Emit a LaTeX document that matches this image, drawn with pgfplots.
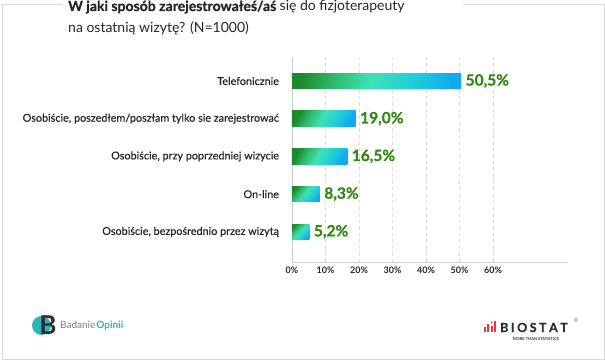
\documentclass[border=0pt]{standalone}
\usepackage{fontspec}
\setmainfont{Lato}
\newfontfamily\latomed{Lato}[FakeBold=0.45]
\usepackage{pgfplots}
\pgfplotsset{compat=1.18}
\definecolor{barG}{HTML}{1D8A2E}
\definecolor{barM}{HTML}{30BE72}
\definecolor{barT}{HTML}{40E0B5}
\definecolor{barC}{HTML}{22CFD6}
\definecolor{barB}{HTML}{10AAF0}
\definecolor{lblgreen}{HTML}{2E8B0E}
\definecolor{gridc}{HTML}{DDDDDD}
\definecolor{axisc}{HTML}{CCCCCC}
\definecolor{txt}{HTML}{262626}
\definecolor{framec}{HTML}{D9D9D9}
\definecolor{logoteal}{HTML}{2BB5B5}
\definecolor{logodark}{HTML}{2E2E2E}
\definecolor{logored}{HTML}{E53935}
\pgfdeclarehorizontalshading{barshade}{100bp}{color(0bp)=(barG); color(24bp)=(barG); color(36bp)=(barM); color(48bp)=(barT); color(62bp)=(barC); color(76bp)=(barB); color(100bp)=(barB)}
\pgfplotsset{
  mybar/.style={xbar, bar width=15.5pt, bar shift=0pt, shading=barshade, shading angle=#1,
    draw=none, point meta=x,
    nodes near coords={\pgfmathprintnumber[fixed,fixed zerofill,precision=1,use comma]{\pgfplotspointmeta}\%},
    nodes near coords style={font=\fontsize{15.5}{17}\selectfont\bfseries\addfontfeature{FakeBold=0.6}, text=lblgreen, anchor=west, xshift=1pt}}
}
\begin{document}
\begin{tikzpicture}
\useasboundingbox (0pt,0pt) rectangle (605pt,362pt);
% frame
\draw[framec, line width=1pt] (62pt,357pt) -- (2pt,357pt) -- (2pt,3pt) -- (604pt,3pt) -- (604pt,357pt) -- (463pt,357pt);
% title
\node[anchor=base west, inner sep=0, text=txt, font=\fontsize{14}{16}\selectfont] at (68pt,351pt) {{\bfseries\addfontfeature{FakeBold=0.8}W jaki sposób zarejestrowałeś/aś} się do fizjoterapeuty};
\node[anchor=base west, inner sep=0, text=txt, font=\fontsize{14}{16}\selectfont] at (68pt,329.5pt) {na ostatnią wizytę? (N=1000)};
\begin{axis}[
  at={(292pt,100pt)}, anchor=south west,
  scale only axis, width=276pt, height=204pt,
  xmin=0, xmax=82.4, ymin=-0.8, ymax=4.61,
  axis x line*=bottom, axis y line*=left,
  axis line style={draw=axisc, line width=0.8pt, -},
  tick style={draw=none},
  xtick={0,10,...,60},
  xticklabel={\pgfmathprintnumber{\tick}\%},
  xticklabel style={font=\fontsize{9}{10}\selectfont\bfseries, text=txt, yshift=-1.5pt},
  ytick={0,1,2,3,4},
  yticklabels={{Osobiście, bezpośrednio przez wizytą},{On-line},{Osobiście, przy poprzedniej wizycie},{Osobiście, poszedłem/poszłam tylko sie zarejestrować},{Telefonicznie}},
  yticklabel style={font=\fontsize{10.8}{12}\latomed, text=txt, xshift=-9.5pt},
  xmajorgrids, grid style={dash pattern=on 3.5pt off 3pt, draw=gridc, line width=0.6pt},
  /pgf/number format/assume math mode=true,
  clip=false,
]
\addplot[mybar=-12] coordinates {(50.5,4)};
\addplot[mybar=-28] coordinates {(19.0,3)};
\addplot[mybar=-28] coordinates {(16.5,2)};
\addplot[mybar=-38] coordinates {(8.3,1)};
\addplot[mybar=-45] coordinates {(5.2,0)};
\end{axis}
% Badanie Opinii logo
\fill[logoteal] (41.5pt,36.5pt) circle (9.5pt);
\node[inner sep=0, text=logodark, font=\fontsize{26}{26}\selectfont\bfseries] at (48pt,36.5pt) {B};
\node[anchor=west, inner sep=0, font=\fontsize{10}{12}\selectfont] at (60pt,36pt) {{\color{gray}Badanie}\hspace{1pt}{\bfseries\color{logoteal}Opinii}};
% BIOSTAT logo
\fill[logored] (484pt,30pt) rectangle (486pt,35pt);
\fill[logored] (487.3pt,30pt) rectangle (489.3pt,38pt);
\fill[logored] (490.6pt,30pt) rectangle (492.6pt,36pt);
\fill[logored] (491.6pt,39.5pt) circle (1pt);
\fill[logored] (493.9pt,30pt) rectangle (495.9pt,41pt);
\node[anchor=base west, inner sep=0, text=logodark, font=\fontsize{12.5}{12}\selectfont\bfseries\addfontfeature{FakeBold=0.6}] at (500pt,30pt) {B\hspace{2.5pt}I\hspace{2.5pt}O\hspace{2.5pt}S\hspace{2.5pt}T\hspace{2.5pt}A\hspace{2.5pt}T};
\node[inner sep=0, text=logodark, font=\fontsize{4}{4}\selectfont\bfseries] at (536pt,23pt) {MORE THAN STATISTICS};
\node[inner sep=0, text=gray, font=\fontsize{6}{6}\selectfont] at (576pt,42pt) {®};
\end{tikzpicture}
\end{document}
